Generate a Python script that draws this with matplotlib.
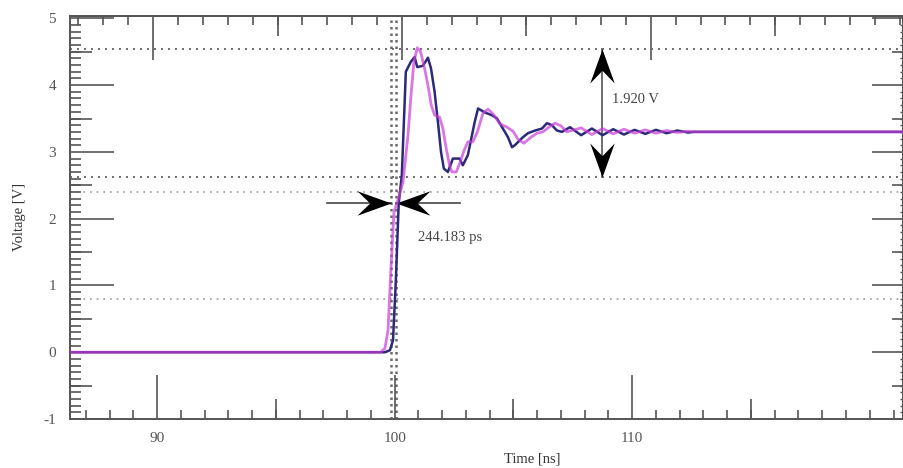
import numpy as np
import matplotlib
matplotlib.use("Agg")
import matplotlib.pyplot as plt
from matplotlib.path import Path
from matplotlib.ticker import MultipleLocator

plt.rcParams['font.family'] = ['Liberation Serif', 'DejaVu Serif']
plt.rcParams['axes.unicode_minus'] = False

# ---------------- data ----------------
t_navy = [86.40, 99.59, 99.80, 99.93, 100.05, 100.17, 100.30, 100.47, 100.68, 100.84,
          100.95, 101.19, 101.40, 101.53, 101.68, 101.82, 101.95, 102.07, 102.24, 102.45,
          102.73, 102.87, 103.08, 103.37, 103.51, 103.80, 104.09, 104.31, 104.52, 104.77,
          104.94, 105.06, 105.40, 105.61, 105.91, 106.20, 106.41, 106.62, 106.83, 107.04,
          107.38, 107.85, 108.30, 108.75, 109.20, 109.65, 110.10, 110.55, 111.00, 111.45,
          111.90, 112.35, 112.60, 121.40]
v_navy = [0.00, 0.00, 0.03, 0.18, 1.08, 2.23, 2.65, 4.20, 4.35, 4.42,
          4.27, 4.29, 4.41, 4.25, 3.90, 3.45, 3.00, 2.75, 2.70, 2.90,
          2.90, 2.80, 2.95, 3.45, 3.65, 3.59, 3.55, 3.50, 3.37, 3.22,
          3.07, 3.10, 3.22, 3.28, 3.32, 3.35, 3.43, 3.40, 3.32, 3.30,
          3.37, 3.25, 3.35, 3.25, 3.34, 3.26, 3.33, 3.27, 3.33, 3.28,
          3.32, 3.29, 3.30, 3.30]

t_mag = [86.40, 99.42, 99.59, 99.72, 99.84, 99.97, 100.14, 100.35, 100.56, 100.70,
         100.81, 100.95, 101.09, 101.26, 101.40, 101.54, 101.68, 101.89, 102.03, 102.17,
         102.31, 102.41, 102.59, 102.73, 102.92, 103.08, 103.29, 103.48, 103.72, 103.93,
         104.14, 104.43, 104.73, 104.98, 105.19, 105.44, 105.74, 105.99, 106.24, 106.49,
         106.75, 107.00, 107.25, 107.85, 108.30, 108.75, 109.20, 109.65, 110.10, 110.55,
         111.00, 111.45, 111.90, 112.35, 112.60, 121.40]
v_mag = [0.00, 0.00, 0.06, 0.33, 1.23, 2.10, 2.28, 2.55, 3.25, 3.90,
         4.35, 4.56, 4.50, 4.25, 4.00, 3.70, 3.55, 3.52, 3.35, 3.05,
         2.80, 2.70, 2.70, 2.82, 3.02, 3.15, 3.15, 3.30, 3.58, 3.64,
         3.57, 3.42, 3.37, 3.31, 3.19, 3.13, 3.22, 3.28, 3.30, 3.37,
         3.43, 3.39, 3.30, 3.36, 3.26, 3.35, 3.27, 3.34, 3.28, 3.33,
         3.28, 3.32, 3.29, 3.31, 3.30, 3.30]

hlines_dark = [4.54, 2.62]
hlines_light = [2.40, 0.79]
t_edge_a = 99.83
t_edge_b = 100.074
v_skew = 2.23
t_skew_span = [97.15, 102.75]
v_high = 4.54
v_low = 2.62
t_swing = 108.73
skew_label = "244.183 ps"
skew_label_pos = (100.98, 1.72)
swing_label = "1.920 V"
swing_label_pos = (109.15, 3.79)

x_ticks = [90, 100, 110]
x_tick_labels = ["90", "100", "110"]
x_half = [95, 105, 115]
y_ticks = [-1, 0, 1, 2, 3, 4, 5]
y_tick_labels = ["-1", "0", "1", "2", "3", "4", "5"]
y_half = [-0.5, 0.5, 1.5, 2.5, 3.5, 4.5]

TOP_SCALE, TOP_OFFSET = 0.9546, 4.2486   # top tick scale of the scan

PX = 0.72  # points per pixel at 100 dpi

# ---------------- figure ----------------
GRAY = '#555555'
fig = plt.figure(figsize=(9.04, 4.68), dpi=100)
ax = fig.add_axes([0.0774, 0.1047, 0.9215, 0.8618])
ax.set_xlim(86.33, 121.40)
ax.set_ylim(-1.0, 5.04)
for s in ax.spines.values():
    s.set_color(GRAY)
    s.set_linewidth(1.2)

# reference lines
for v in hlines_dark:
    ax.axhline(v, color='#6a6a6a', lw=1.4, ls=(0, (1, 2.6)), zorder=1)
for v in hlines_light:
    ax.axhline(v, color='#9a9a9a', lw=1.2, ls=(0, (1, 3)), zorder=1)
for t in (t_edge_a, t_edge_b):
    ax.axvline(t, color='#6a6a6a', lw=1.8, ls=(0, (1, 1.6)), zorder=1)

# waveforms
ax.plot(t_navy, v_navy, color='#2a2a78', lw=1.8, zorder=4, solid_joinstyle='round')
ax.plot(t_mag, v_mag, color='#c83cd8', lw=2.0, alpha=0.7, zorder=5, solid_joinstyle='round')


def stealth(angle_deg):
    base = np.array([(0, 0), (-2, 0.72), (-1.25, 0), (-2, -0.72), (0, 0)], float)
    a = np.deg2rad(angle_deg)
    rot = np.array([[np.cos(a), -np.sin(a)], [np.sin(a), np.cos(a)]])
    verts = base @ rot.T
    codes = [Path.MOVETO, Path.LINETO, Path.LINETO, Path.LINETO, Path.CLOSEPOLY]
    return Path(verts, codes)


# skew measurement arrows
ax.plot([t_skew_span[0], t_edge_a], [v_skew, v_skew], color='#444444', lw=1.2, zorder=3)
ax.plot([t_edge_b, t_skew_span[1]], [v_skew, v_skew], color='#444444', lw=1.2, zorder=3)
ax.plot([t_edge_a], [v_skew], marker=stealth(0), ms=49, color='black', mew=0, ls='none', zorder=3)
ax.plot([t_edge_b], [v_skew], marker=stealth(180), ms=49, color='black', mew=0, ls='none', zorder=3)

# swing measurement arrows
ax.plot([t_swing, t_swing], [v_high, v_low], color='#555555', lw=1.2, zorder=3)
ax.plot([t_swing], [v_high], marker=stealth(90), ms=49, color='black', mew=0, ls='none', zorder=3)
ax.plot([t_swing], [v_low], marker=stealth(-90), ms=49, color='black', mew=0, ls='none', zorder=3)

ax.text(*skew_label_pos, skew_label, fontsize=10.5, color='#444444', ha='left', va='center')
ax.text(*swing_label_pos, swing_label, fontsize=10.5, color='#444444', ha='left', va='center')

# ---------------- ticks ----------------
W = 1.2
ax.set_xticks(x_ticks, labels=x_tick_labels)
ax.xaxis.set_minor_locator(MultipleLocator(1))
ax.tick_params(axis='x', which='major', direction='in', length=44 * PX, width=W, color=GRAY,
               top=False, bottom=True, labelsize=11, labelcolor=GRAY, pad=9)
ax.tick_params(axis='x', which='minor', direction='in', length=9 * PX, width=W, color=GRAY,
               top=False, bottom=True)
ax.set_yticks(y_ticks, labels=y_tick_labels)
ax.yaxis.set_minor_locator(MultipleLocator(0.1))
ax.tick_params(axis='y', which='major', direction='in', length=44 * PX, width=W, color=GRAY,
               left=True, right=False, labelsize=11, labelcolor=GRAY, pad=10)
ax.tick_params(axis='y', which='minor', direction='in', length=11 * PX, width=W, color=GRAY,
               left=True, right=False)

sec_bot = ax.secondary_xaxis('bottom')
sec_bot.set_xticks(x_half)
sec_bot.tick_params(axis='x', which='both', direction='in', length=20 * PX, width=W, color=GRAY,
                    labelbottom=False, labeltop=False)


def to_top(t):
    return TOP_SCALE * np.asarray(t) + TOP_OFFSET


def from_top(t):
    return (np.asarray(t) - TOP_OFFSET) / TOP_SCALE


sec_top1 = ax.secondary_xaxis('top', functions=(to_top, from_top))
sec_top1.set_xticks(x_ticks)
sec_top1.xaxis.set_minor_locator(MultipleLocator(1))
sec_top1.tick_params(axis='x', which='major', direction='in', length=44 * PX, width=W, color=GRAY,
                     labelbottom=False, labeltop=False)
sec_top1.tick_params(axis='x', which='minor', direction='in', length=9 * PX, width=W, color=GRAY)
sec_top2 = ax.secondary_xaxis('top', functions=(to_top, from_top))
sec_top2.set_xticks(x_half)
sec_top2.tick_params(axis='x', which='both', direction='in', length=20 * PX, width=W, color=GRAY,
                     labelbottom=False, labeltop=False)

sec_left = ax.secondary_yaxis('left')
sec_left.set_yticks(y_half)
sec_left.tick_params(axis='y', which='both', direction='in', length=22 * PX, width=W, color=GRAY,
                     labelleft=False, labelright=False)

sec_right1 = ax.secondary_yaxis('right')
sec_right1.set_yticks(y_ticks)
sec_right1.yaxis.set_minor_locator(MultipleLocator(0.1))
sec_right1.tick_params(axis='y', which='major', direction='in', length=31 * PX, width=W, color=GRAY,
                       labelleft=False, labelright=False)
sec_right1.tick_params(axis='y', which='minor', direction='in', length=3 * PX, width=1.0, color=GRAY)
sec_right2 = ax.secondary_yaxis('right')
sec_right2.set_yticks(y_half)
sec_right2.tick_params(axis='y', which='both', direction='in', length=11 * PX, width=W, color=GRAY,
                       labelleft=False, labelright=False)

for sec in (sec_bot, sec_top1, sec_top2, sec_left, sec_right1, sec_right2):
    for s in sec.spines.values():
        s.set_color(GRAY)
        s.set_linewidth(1.2)

ax.set_xlabel('Time [ns]', fontsize=10.5, color='#333333')
ax.xaxis.set_label_coords(0.555, -0.083)
ax.set_ylabel('Voltage [V]', fontsize=10.5, color='#333333')
ax.yaxis.set_label_coords(-0.053, 0.5)

fig.savefig('out.png', dpi=100)
